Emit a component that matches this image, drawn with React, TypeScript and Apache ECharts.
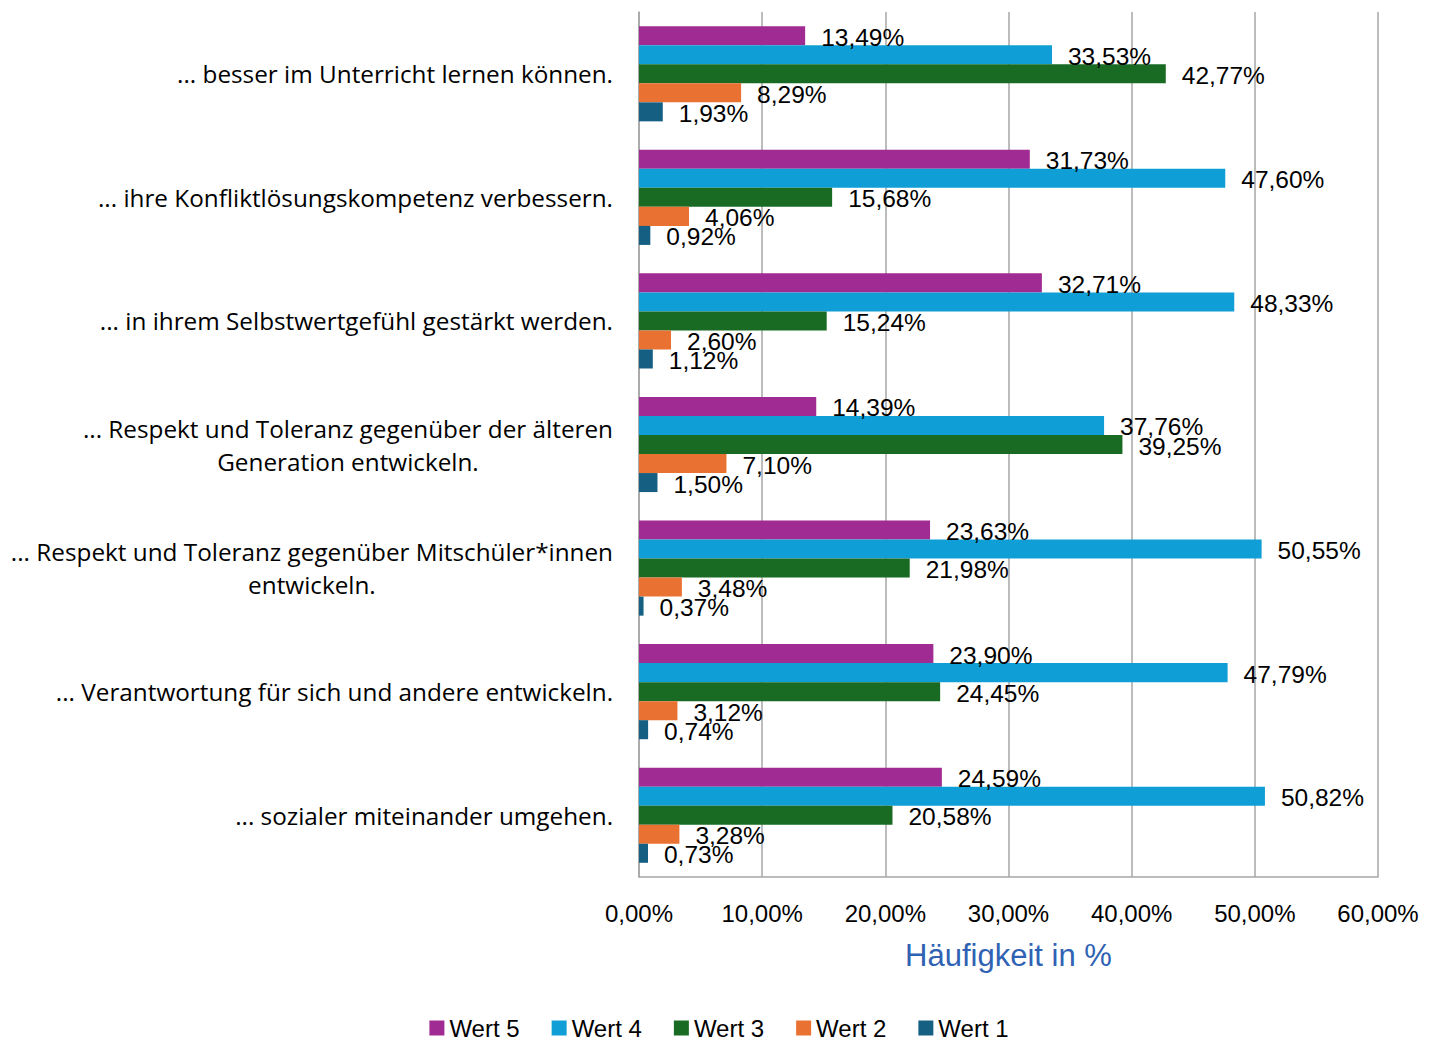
import React, { useEffect, useRef } from "react";
import * as echarts from "echarts";

const categories = [
  "... besser im Unterricht lernen können.",
  "... ihre Konfliktlösungskompetenz verbessern.",
  "... in ihrem Selbstwertgefühl gestärkt werden.",
  "... Respekt und Toleranz gegenüber der älteren\nGeneration entwickeln.",
  "... Respekt und Toleranz gegenüber Mitschüler*innen\nentwickeln.",
  "... Verantwortung für sich und andere entwickeln.",
  "... sozialer miteinander umgehen.",
];

const seriesNames = ["Wert 5", "Wert 4", "Wert 3", "Wert 2", "Wert 1"];
const wert5 = [13.49, 31.73, 32.71, 14.39, 23.63, 23.9, 24.59];
const wert4 = [33.53, 47.6, 48.33, 37.76, 50.55, 47.79, 50.82];
const wert3 = [42.77, 15.68, 15.24, 39.25, 21.98, 24.45, 20.58];
const wert2 = [8.29, 4.06, 2.6, 7.1, 3.48, 3.12, 3.28];
const wert1 = [1.93, 0.92, 1.12, 1.5, 0.37, 0.74, 0.73];
const seriesValues = [wert5, wert4, wert3, wert2, wert1];
const colors = ["#A02B93", "#0F9ED5", "#196B24", "#E97132", "#156082"];
const xTicks = { min: 0, max: 60, interval: 10 };

const fmt = (v: number) => v.toFixed(2).replace(".", ",") + "%";

export default function App() {
  const ref = useRef<HTMLDivElement>(null);
  useEffect(() => {
    if (!ref.current) return;
    const chart = echarts.init(ref.current, null, { renderer: "svg" });
    chart.setOption({
      animation: false,
      backgroundColor: "#ffffff",
      color: colors,
      grid: {
        left: 631,
        right: 52,
        top: 4,
        bottom: 164,
        containLabel: false,
        outerBoundsMode: "none",
      },
      legend: {
        top: 1003,
        left: "center",
        icon: "rect",
        itemWidth: 15,
        itemHeight: 15,
        itemGap: 32,
        itemStyle: { borderWidth: 0 },
        textStyle: { fontFamily: "Liberation Sans", fontSize: 24, color: "#000" },
        data: seriesNames,
      },
      xAxis: {
        type: "value",
        min: xTicks.min,
        max: xTicks.max,
        interval: xTicks.interval,
        axisLine: { show: true, lineStyle: { color: "#a6a6a6", width: 1.5 } },
        axisTick: { show: false },
        splitLine: { show: true, lineStyle: { color: "#a6a6a6", width: 1.5 } },
        axisLabel: {
          formatter: (v: number) => fmt(v),
          fontFamily: "Liberation Sans",
          fontSize: 24,
          color: "#000",
          margin: 24,
        },
        name: "Häufigkeit in %",
        nameLocation: "middle",
        nameGap: 63,
        nameTextStyle: { fontFamily: "Liberation Sans", fontSize: 31, color: "#3062B4" },
      },
      yAxis: {
        type: "category",
        inverse: true,
        data: categories,
        axisLine: { show: true, lineStyle: { color: "#a6a6a6", width: 1.5 } },
        axisTick: { show: false },
        splitLine: { show: false },
        axisLabel: {
          margin: 26,
          formatter: (v: string) => v.split("\n").map((l) => "{c|" + l + "}").join("\n"),
          rich: {
            c: {
              align: "center",
              fontFamily: "Open Sans",
              fontSize: 24.3,
              lineHeight: 33,
              color: "#000",
            },
          },
        },
      },
      series: seriesNames.map((name, i) => ({
        name,
        type: "bar",
        data: seriesValues[i],
        barGap: "0%",
        barCategoryGap: "23%",
        itemStyle: { color: colors[i] },
        label: {
          show: true,
          position: "right",
          distance: 16,
          offset: [0, 1.5],
          formatter: (p: any) => fmt(p.value),
          fontFamily: "Liberation Sans",
          fontSize: 24.5,
          color: "#000",
        },
      })),
    });
    return () => chart.dispose();
  }, []);
  return <div ref={ref} style={{ width: 1422, height: 1033 }} />;
}
